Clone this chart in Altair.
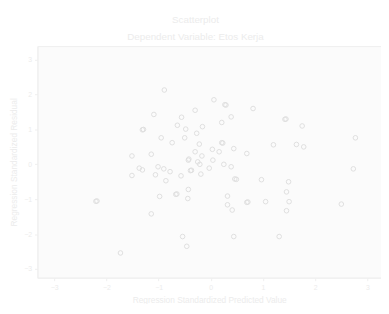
import altair as alt
import pandas as pd

pred = [-0.89, -1.09, -1.31, -1.29, -0.56, -0.64, -0.30, -0.48, -0.16, -0.95,
        -0.74, -0.50, -0.27, -0.22, -1.51, -1.14, -0.30, -0.17, -0.42, -0.25,
        0.06, 0.27, 0.29, 0.81, 0.39, 1.42, 1.44, 0.21, 1.75, 2.77,
        0.21, 0.23, 0.03, 0.16, 0.44, 0.69, 1.20, 1.64, 1.78, 0.04,
        0.25, 0.39, -0.03, 2.73, -1.51, -1.37, -1.31, -1.06, -1.01, -0.90,
        -0.78, -0.86, -0.57, -0.43, -0.21, -0.39, -0.37, -0.19, -0.43, -0.44,
        -0.67, -0.65, -0.98, -2.20, -2.18, -1.14, -0.54, -0.46, -1.73, 0.46,
        0.49, 0.97, 1.49, 1.45, 0.32, 0.32, 0.69, 0.71, 1.05, 1.50,
        0.41, 1.45, 2.50, 0.44, 1.31]
resid = [2.13, 1.43, 0.99, 1.00, 1.35, 1.12, 1.55, 1.01, 1.08, 0.76,
         0.62, 0.76, 0.89, 0.58, 0.24, 0.29, 0.36, 0.24, 0.15, 0.07,
         1.85, 1.71, 1.70, 1.60, 1.36, 1.29, 1.30, 1.20, 1.10, 0.76,
         0.62, 0.61, 0.43, 0.36, 0.45, 0.31, 0.56, 0.57, 0.50, 0.12,
         0.00, -0.07, -0.11, -0.13, -0.32, -0.11, -0.16, -0.30, -0.07, -0.13,
         -0.21, -0.47, -0.33, 0.12, 0.00, -0.18, -0.17, -0.28, -0.72, -0.98,
         -0.86, -0.85, -0.92, -1.06, -1.05, -1.42, -2.07, -2.35, -2.54, -0.42,
         -0.43, -0.44, -0.50, -0.79, -0.91, -1.16, -1.09, -1.08, -1.07, -1.07,
         -1.31, -1.33, -1.14, -2.07, -2.07]

x_ticks = [-3, -2, -1, 0, 1, 2, 3]
y_ticks = [-3, -2, -1, 0, 1, 2, 3]

df = pd.DataFrame({"pred": pred, "resid": resid})

txt = "#ececec"
font = "Liberation Sans"

chart = alt.Chart(df).mark_point(
    shape="circle", filled=False, size=22, strokeWidth=1, color="#dedede", opacity=1
).encode(
    x=alt.X("pred:Q",
            scale=alt.Scale(domain=[-3.32, 3.26], nice=False, zero=False),
            axis=alt.Axis(values=x_ticks, title="Regression Standardized Predicted Value",
                          grid=False, tickSize=3, labelPadding=3, titlePadding=5,
                          format="d")),
    y=alt.Y("resid:Q",
            scale=alt.Scale(domain=[-3.25, 3.39], nice=False, zero=False),
            axis=alt.Axis(values=y_ticks, title="Regression Standardized Residual",
                          grid=False, tickSize=3, labelPadding=3, titlePadding=5,
                          format="d")),
).properties(
    width=350, height=236,
    title=alt.TitleParams(
        text="Scatterplot",
        subtitle="Dependent Variable: Etos Kerja",
        anchor="middle", dx=-14, fontSize=10, subtitleFontSize=10,
        font=font, subtitleFont=font, fontWeight="normal",
        color=txt, subtitleColor=txt, subtitlePadding=7, offset=4,
    ),
    autosize=alt.AutoSizeParams(type="none"),
    padding={"left": 30, "top": 36, "right": 0, "bottom": 24},
).configure_view(
    fill="#fbfbfb", stroke="#efefef"
).configure_axis(
    domainColor="#efefef", tickColor="#efefef", labelColor=txt, titleColor=txt,
    labelFont=font, titleFont=font, labelFontSize=7, titleFontSize=8.5,
    titleFontWeight="normal",
)

chart.save("out.html", embed_options={"renderer": "svg", "actions": False})
